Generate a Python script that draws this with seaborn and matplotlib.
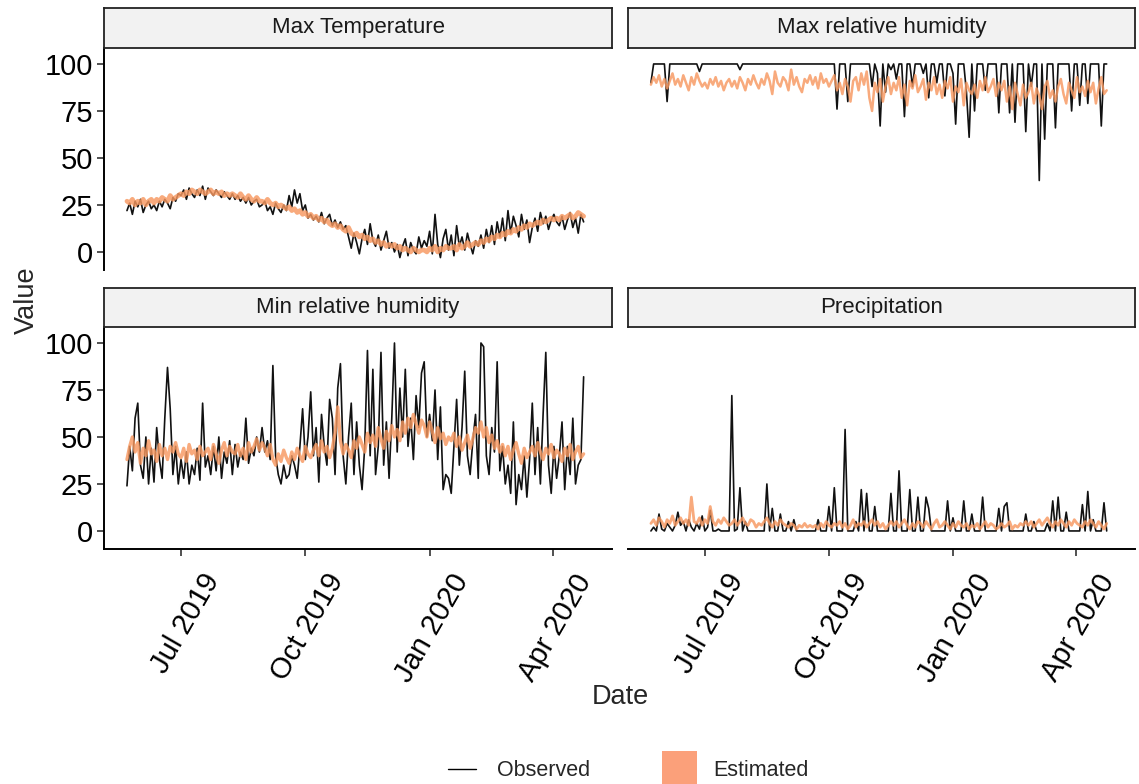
import numpy as np
import pandas as pd
import seaborn as sns
import matplotlib.pyplot as plt
import matplotlib.dates as mdates
from matplotlib.lines import Line2D
from matplotlib.patches import Rectangle
from matplotlib.transforms import ScaledTranslation

start_date = '2019-05-22'

obs_tmax = [22, 26, 20, 27, 24, 28, 21, 25, 27, 23,
            25, 22, 27, 24, 28, 26, 23, 29, 27, 31,
            30, 33, 28, 34, 31, 29, 33, 30, 35, 28,
            34, 32, 30, 33, 31, 29, 32, 30, 28, 31,
            28, 30, 27, 29, 26, 29, 25, 27, 28, 24,
            25, 27, 22, 24, 20, 26, 23, 21, 25, 22,
            30, 24, 33, 26, 31, 22, 25, 18, 20, 17,
            19, 16, 21, 15, 18, 20, 14, 17, 13, 16,
            12, 14, 8, 2, 10, 5, -1, 7, 12, 4,
            15, 6, 3, 9, 1, 6, 11, 2, 5, 0,
            4, -3, 3, 7, -2, 5, 1, -1, 8, 2,
            6, 3, 11, -1, 20, 4, -3, 7, 12, 1,
            9, -2, 14, 3, 8, 1, 10, 4, -1, 6,
            3, 9, 2, 12, 5, 14, 4, 16, 8, 18,
            6, 22, 10, 19, 14, 8, 20, 12, 17, 5,
            13, 18, 11, 21, 15, 19, 12, 17, 20, 16,
            14, 19, 12, 17, 21, 13, 18, 10, 20, 16]
est_tmax = [27, 26, 28, 25, 27, 26, 28, 25, 27, 28,
            26, 28, 27, 29, 28, 27, 30, 28, 29, 30,
            31, 30, 32, 31, 33, 32, 31, 33, 32, 31,
            32, 33, 31, 32, 31, 32, 30, 31, 30, 31,
            30, 29, 31, 29, 28, 30, 28, 27, 29, 27,
            27, 26, 28, 26, 25, 26, 24, 25, 24, 23,
            24, 22, 23, 21, 22, 20, 21, 19, 20, 18,
            19, 17, 18, 16, 17, 15, 14, 15, 13, 14,
            12, 11, 13, 10, 9, 10, 8, 9, 7, 8,
            6, 7, 5, 6, 4, 5, 3, 4, 3, 4,
            2, 3, 1, 2, 1, 0, 2, 1, 0, 1,
            1, 0, 2, 1, 3, 0, 2, 1, 3, 2,
            2, 3, 1, 4, 2, 3, 5, 3, 4, 5,
            4, 6, 5, 7, 6, 8, 7, 9, 8, 10,
            9, 11, 10, 12, 11, 13, 12, 14, 13, 15,
            14, 15, 16, 15, 17, 16, 17, 18, 17, 18,
            17, 19, 18, 19, 20, 18, 19, 21, 20, 19]

obs_rhmax = [90, 100, 100, 100, 100, 100, 80, 100, 100, 100,
             100, 100, 100, 100, 100, 100, 100, 100, 96, 100,
             100, 100, 100, 100, 100, 100, 100, 100, 100, 100,
             100, 100, 100, 97, 100, 100, 100, 100, 100, 100,
             100, 100, 100, 100, 100, 100, 100, 100, 100, 100,
             100, 100, 100, 100, 100, 100, 100, 100, 100, 100,
             100, 100, 100, 100, 100, 100, 100, 100, 100, 76,
             100, 100, 100, 80, 100, 100, 100, 100, 100, 100,
             100, 100, 88, 100, 95, 67, 100, 85, 100, 97,
             100, 92, 100, 100, 72, 100, 100, 88, 100, 100,
             100, 95, 100, 82, 100, 100, 90, 100, 100, 83,
             100, 100, 95, 68, 100, 100, 100, 85, 61, 100,
             75, 100, 100, 100, 86, 100, 100, 100, 100, 74,
             100, 100, 100, 74, 100, 69, 100, 100, 100, 64,
             100, 88, 100, 100, 38, 100, 60, 100, 100, 100,
             66, 100, 100, 100, 100, 100, 75, 100, 100, 78,
             100, 100, 79, 100, 100, 100, 100, 67, 100, 100]
est_rhmax = [89, 93, 90, 94, 88, 92, 87, 91, 95, 89,
             92, 88, 94, 90, 86, 93, 89, 95, 91, 88,
             90, 87, 92, 89, 93, 88, 91, 86, 90, 92,
             88, 91, 87, 93, 90, 86, 92, 89, 94, 90,
             87, 92, 89, 95, 91, 84, 96, 90, 88, 93,
             91, 86, 97, 89, 93, 88, 85, 92, 90, 94,
             89, 93, 87, 95, 90, 92, 88, 91, 94, 86,
             90, 84, 92, 88, 80, 91, 93, 86, 95, 89,
             96, 82, 75, 90, 85, 92, 80, 88, 93, 84,
             90, 86, 93, 82, 89, 78, 91, 87, 94, 85,
             88, 92, 81, 90, 86, 93, 84, 89, 82, 91,
             87, 93, 80, 88, 85, 92, 78, 90, 86, 84,
             89, 82, 91, 86, 93, 85, 88, 92, 83, 90,
             86, 91, 80, 88, 76, 90, 84, 78, 89, 82,
             85, 90, 79, 87, 83, 76, 88, 91, 82, 86,
             80, 88, 92, 84, 79, 90, 86, 82, 93, 85,
             88, 83, 91, 85, 90, 79, 87, 93, 84, 86]

obs_rhmin = [24, 45, 32, 60, 68, 35, 28, 50, 25, 44,
             26, 55, 38, 28, 60, 87, 65, 30, 45, 25,
             38, 28, 42, 25, 35, 30, 44, 27, 68, 34,
             40, 30, 45, 32, 50, 28, 42, 36, 48, 30,
             46, 34, 42, 38, 60, 36, 44, 40, 50, 42,
             55, 42, 48, 38, 88, 40, 30, 25, 35, 28,
             30, 40, 35, 28, 45, 65, 38, 50, 74, 40,
             55, 26, 62, 45, 35, 70, 60, 30, 76, 89,
             40, 25, 50, 68, 30, 58, 35, 22, 45, 96,
             40, 86, 30, 45, 95, 35, 58, 28, 60, 100,
             42, 76, 50, 86, 45, 60, 38, 72, 55, 84,
             90, 50, 62, 48, 75, 38, 66, 22, 30, 28,
             20, 45, 70, 35, 55, 85, 40, 30, 48, 62,
             28, 100, 98, 40, 30, 55, 42, 90, 32, 45,
             25, 35, 20, 58, 14, 30, 22, 40, 18, 38,
             68, 30, 55, 25, 62, 95, 35, 20, 45, 28,
             40, 58, 22, 45, 30, 60, 25, 35, 38, 82]
est_rhmin = [38, 45, 50, 42, 47, 36, 44, 40, 48, 41,
             43, 37, 46, 40, 44, 38, 45, 42, 47, 41,
             39, 44, 37, 46, 41, 43, 38, 45, 40, 42,
             44, 38, 46, 41, 36, 43, 47, 40, 45, 42,
             41, 46, 40, 44, 38, 47, 42, 45, 49, 43,
             47, 44, 40, 46, 38, 35, 41, 37, 43, 39,
             36, 42, 38, 44, 40, 37, 45, 41, 39, 43,
             46, 40, 48, 42, 45, 39, 44, 52, 66, 48,
             41, 46, 43, 39, 48, 44, 50, 46, 42, 52,
             47, 51, 45, 55, 49, 44, 53, 48, 56, 50,
             54, 48, 58, 52, 60, 55, 62, 57, 52, 59,
             56, 50, 58, 53, 47, 55, 49, 52, 46, 50,
             48, 52, 45, 50, 43, 47, 51, 44, 49, 55,
             52, 58, 50, 55, 47, 51, 44, 48, 42, 46,
             40, 45, 38, 43, 47, 41, 36, 44, 39, 42,
             45, 40, 47, 42, 38, 44, 41, 46, 39, 43,
             41, 37, 44, 40, 46, 38, 42, 45, 39, 41]

obs_prcp = [0, 2, 0, 9, 1, 0, 4, 2, 0, 3,
            10, 3, 5, 0, 6, 2, 0, 4, 1, 8,
            0, 2, 11, 0, 0, 1, 0, 0, 0, 0,
            72, 0, 1, 23, 0, 5, 0, 0, 0, 0,
            0, 0, 0, 25, 0, 12, 0, 0, 9, 0,
            0, 5, 0, 6, 0, 0, 0, 0, 0, 0,
            0, 0, 6, 0, 0, 0, 13, 0, 23, 0,
            0, 0, 54, 0, 0, 0, 5, 0, 22, 0,
            20, 0, 0, 13, 0, 0, 0, 0, 0, 20,
            0, 0, 32, 0, 0, 0, 22, 0, 0, 18,
            0, 0, 18, 12, 0, 0, 0, 0, 0, 0,
            16, 0, 7, 0, 0, 0, 16, 0, 0, 9,
            0, 0, 0, 18, 0, 0, 0, 0, 0, 12,
            0, 13, 15, 0, 0, 0, 0, 0, 0, 9,
            0, 0, 5, 0, 0, 0, 0, 4, 0, 16,
            0, 18, 0, 0, 10, 0, 0, 0, 0, 0,
            14, 0, 21, 0, 6, 0, 0, 0, 15, 0]
est_prcp = [4, 6, 3, 7, 5, 2, 6, 4, 8, 3,
            5, 7, 4, 6, 3, 18, 5, 4, 7, 3,
            6, 4, 13, 5, 3, 6, 4, 7, 5, 3,
            4, 6, 3, 5, 7, 4, 3, 6, 5, 2,
            4, 3, 5, 7, 4, 2, 5, 3, 6, 4,
            3, 2, 4, 3, 1, 3, 2, 4, 2, 3,
            2, 3, 1, 4, 2, 5, 3, 2, 4, 3,
            5, 2, 4, 1, 3, 6, 2, 4, 3, 5,
            2, 4, 6, 3, 5, 2, 4, 1, 3, 5,
            3, 5, 2, 4, 6, 3, 1, 4, 2, 5,
            4, 2, 5, 3, 1, 4, 6, 2, 3, 5,
            3, 1, 4, 2, 5, 3, 2, 4, 1, 3,
            2, 4, 1, 3, 5, 2, 4, 3, 1, 2,
            4, 2, 3, 5, 1, 3, 2, 4, 3, 5,
            3, 5, 2, 4, 6, 3, 5, 7, 4, 2,
            5, 3, 6, 4, 2, 5, 3, 6, 4, 3,
            2, 5, 3, 6, 4, 2, 5, 3, 1, 4]

panels = ['Max Temperature', 'Max relative humidity',
          'Min relative humidity', 'Precipitation']
observed = dict(zip(panels, [obs_tmax, obs_rhmax, obs_rhmin, obs_prcp]))
estimated = dict(zip(panels, [est_tmax, est_rhmax, est_rhmin, est_prcp]))

dates = pd.date_range(start_date, periods=len(obs_tmax), freq='2D')
frames = []
for name in panels:
    frames.append(pd.DataFrame({'Date': dates, 'Value': observed[name],
                                'Source': 'Observed', 'Variable': name}))
    frames.append(pd.DataFrame({'Date': dates, 'Value': estimated[name],
                                'Source': 'Estimated', 'Variable': name}))
df = pd.concat(frames, ignore_index=True)

sns.set_theme(style='white')
plt.rcParams['font.family'] = ['Liberation Sans', 'DejaVu Sans']

orange = '#F79860'
W, H = 1139, 784
fig = plt.figure(figsize=(W / 100, H / 100), dpi=100)


def box(x0, y0, x1, y1):
    return [x0 / W, 1 - y1 / H, (x1 - x0) / W, (y1 - y0) / H]


# panel pixel boxes (left, top, right, bottom), facet row/col, orange width
layout = {
    'Max Temperature': (104, 48, 612, 270, 0, 0, 3.4),
    'Max relative humidity': (628, 48, 1135, 270, 0, 1, 1.8),
    'Min relative humidity': (104, 327, 612, 549, 1, 0, 2.4),
    'Precipitation': (628, 327, 1135, 549, 1, 1, 2.0),
}

# shift rotated date labels right / down like the ggplot original
label_shift = ScaledTranslation(0.20, -0.09, fig.dpi_scale_trans)

for name in panels:
    x0, y0, x1, y1, row, col, est_lw = layout[name]
    ax = fig.add_axes(box(x0, y0, x1, y1))
    sub = df[df['Variable'] == name]
    sns.lineplot(data=sub[sub['Source'] == 'Observed'], x='Date', y='Value',
                 color='#111111', linewidth=1.2, ax=ax, estimator=None)
    sns.lineplot(data=sub[sub['Source'] == 'Estimated'], x='Date', y='Value',
                 color=orange, linewidth=est_lw, alpha=0.82, ax=ax, estimator=None)
    ax.set_xlim(pd.Timestamp('2019-05-05'), pd.Timestamp('2020-05-15'))
    ax.set_ylim(-9.6, 108.5)
    ax.set_yticks([0, 25, 50, 75, 100])
    ax.xaxis.set_major_locator(mdates.MonthLocator(bymonth=[1, 4, 7, 10]))
    ax.xaxis.set_major_formatter(mdates.DateFormatter('%b %Y'))
    ax.set_xlabel('')
    ax.set_ylabel('')
    for s in ['top', 'right']:
        ax.spines[s].set_visible(False)
    for s in ['left', 'bottom']:
        ax.spines[s].set_linewidth(1.4)
        ax.spines[s].set_color('black')
    ax.tick_params(length=5, width=1.2, color='#333333', labelsize=21,
                   labelcolor='black', direction='out', pad=3)
    ax.tick_params(axis='y', left=True)
    ax.tick_params(axis='x', bottom=True)
    if row == 0:
        ax.spines['bottom'].set_visible(False)
        ax.tick_params(axis='x', bottom=False, labelbottom=False)
    if col == 1:
        ax.spines['left'].set_visible(False)
        ax.tick_params(axis='y', left=False, labelleft=False)
    if row == 1:
        for lab in ax.get_xticklabels():
            lab.set_rotation(60)
            lab.set_ha('right')
            lab.set_va('top')
            lab.set_rotation_mode('anchor')
            lab.set_transform(lab.get_transform() + label_shift)

    # facet strip
    sy0 = y0 - 40 if row == 0 else y0 - 39
    sax = fig.add_axes(box(x0, sy0, x1, y0))
    sax.set_facecolor('#F2F2F2')
    sax.set_xticks([])
    sax.set_yticks([])
    for s in sax.spines.values():
        s.set_visible(True)
        s.set_color('#222222')
        s.set_linewidth(1.3)
    sax.text(0.5, 0.5, name, ha='center', va='center', fontsize=16,
             color='#1a1a1a', transform=sax.transAxes)

fig.text(620 / W, 1 - 697 / H, 'Date', ha='center', va='center', fontsize=19.5)
fig.text(27 / W, 1 - 300 / H, 'Value', ha='center', va='center',
         rotation=90, fontsize=19.5)

# legend at the bottom
fig.add_artist(Line2D([448 / W, 476 / W], [1 - 769 / H, 1 - 769 / H],
                      color='black', linewidth=1.0, transform=fig.transFigure))
fig.text(497 / W, 1 - 770 / H, 'Observed', ha='left', va='center', fontsize=15.5)
fig.add_artist(Rectangle((662 / W, 1 - 786 / H), 35 / W, 35 / H,
                         facecolor='#FBA07A', edgecolor='none',
                         transform=fig.transFigure))
fig.text(713 / W, 1 - 770 / H, 'Estimated', ha='left', va='center', fontsize=15.5)

fig.savefig('out.png', dpi=100)
